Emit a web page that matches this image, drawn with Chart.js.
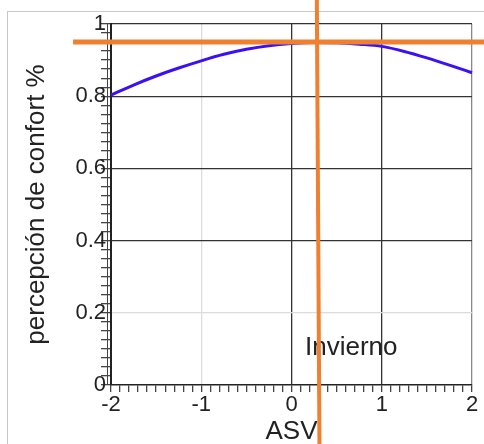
<!DOCTYPE html>
<html>
<head>
<meta charset="utf-8">
<script src="https://cdn.jsdelivr.net/npm/chart.js@4"></script>
<style>
  html, body { margin: 0; padding: 0; background: #fff; }
</style>
</head>
<body>
<canvas id="confortChart" width="484" height="444"></canvas>
<script>
// curve
const asv = [-2, -1.75, -1.5, -1.25, -1, -0.75, -0.5, -0.25, 0, 0.25, 0.5, 0.75, 1, 1.25, 1.5, 1.75, 2];
const confort = [0.803, 0.831, 0.856, 0.878, 0.898, 0.916, 0.930, 0.940, 0.946, 0.949, 0.948, 0.944, 0.938, 0.924, 0.906, 0.886, 0.865];

// orange reference lines (value of comfort and ASV they mark)
const refConfort = [0.95, 0.95];
const refConfortAsv = [-2.42, 2.2];
const refAsv = [0.28, 0.31];
const refAsvConfort = [1.1, -0.17];

const xMajor = [-2, -1, 0, 1, 2];
const yMajor = [0, 0.2, 0.4, 0.6, 0.8, 1];
const seasonLabel = "Invierno";

const near = (a, b) => Math.abs(a - b) < 1e-6;
const FONT = '"Liberation Sans", Arial, sans-serif';

const curvePoints = asv.map((x, i) => ({ x: x, y: confort[i] }));
const hLine = refConfortAsv.map((x, i) => ({ x: x, y: refConfort[i] }));
const vLine = refAsv.map((x, i) => ({ x: x, y: refAsvConfort[i] }));

const extras = {
  id: "extras",
  beforeDraw(chart) {
    const ctx = chart.ctx;
    ctx.save();
    ctx.fillStyle = "#fff";
    ctx.fillRect(0, 0, chart.width, chart.height);
    ctx.strokeStyle = "#c8c8c8";
    ctx.lineWidth = 1;
    ctx.strokeRect(7.5, 11.5, 500, 500);
    ctx.restore();
  },
  beforeDatasetsDraw(chart) {
    const { ctx, chartArea, scales } = chart;
    ctx.save();
    // second line of the y axis
    ctx.strokeStyle = "#444";
    ctx.lineWidth = 1;
    ctx.beginPath();
    ctx.moveTo(chartArea.left - 3.5, chartArea.top);
    ctx.lineTo(chartArea.left - 3.5, chartArea.bottom);
    ctx.stroke();
    ctx.fillStyle = "#222";
    ctx.font = "26px " + FONT;
    ctx.textAlign = "left";
    ctx.textBaseline = "middle";
    ctx.fillText(seasonLabel, scales.x.getPixelForValue(0.15), scales.y.getPixelForValue(0.1025));
    ctx.restore();
  }
};

new Chart(document.getElementById("confortChart"), {
  type: "scatter",
  data: {
    datasets: [
      {
        data: hLine,
        showLine: true,
        borderColor: "#f08030",
        borderWidth: 5,
        pointRadius: 0,
        clip: false
      },
      {
        data: vLine,
        showLine: true,
        borderColor: "#f08030",
        borderWidth: 4,
        pointRadius: 0,
        clip: false
      },
      {
        data: curvePoints,
        showLine: true,
        borderColor: "#3c10f5",
        borderWidth: 3,
        pointRadius: 0,
        cubicInterpolationMode: "monotone",
        clip: 6
      }
    ]
  },
  options: {
    responsive: false,
    animation: false,
    layout: { padding: { top: 24, right: 12, left: 0, bottom: 0 } },
    plugins: { legend: { display: false }, tooltip: { enabled: false } },
    scales: {
      x: {
        type: "linear",
        min: -2,
        max: 2,
        afterFit: (s) => { s.height = 59; },
        ticks: {
          stepSize: 0.1,
          autoSkip: false,
          maxRotation: 0,
          minRotation: 0,
          padding: 0,
          color: "#222",
          font: { family: FONT, size: 22 },
          callback: (v) => xMajor.some((m) => near(m, v)) ? String(Math.round(v)) : ""
        },
        grid: {
          tickLength: 7,
          tickColor: "#444",
          lineWidth: 1.3,
          color: (c) => {
            if (!c.tick) return "rgba(0,0,0,0)";
            const v = c.tick.value;
            if (near(v, 0) || near(v, 1)) return "#333";
            if (near(v, -1)) return "#dcdcdc";
            if (near(v, 2)) return "#888";
            return "rgba(0,0,0,0)";
          }
        },
        border: { color: "#222", width: 1.5 },
        title: {
          display: true,
          text: "ASV",
          color: "#222",
          font: { family: FONT, size: 26 },
          padding: { top: 0, bottom: -3 }
        }
      },
      y: {
        type: "linear",
        min: 0,
        max: 1,
        afterFit: (s) => { s.width = 111; },
        ticks: {
          stepSize: 0.025,
          autoSkip: false,
          padding: -5,
          color: "#222",
          font: { family: FONT, size: 22 },
          callback: (v) => {
            const m = yMajor.find((t) => near(t, v));
            return m === undefined ? "" : String(m);
          }
        },
        grid: {
          tickLength: 10,
          tickColor: "#444",
          lineWidth: 1.3,
          color: (c) => {
            if (!c.tick) return "rgba(0,0,0,0)";
            const v = c.tick.value;
            if (near(v, 0.4) || near(v, 0.6) || near(v, 0.8) || near(v, 1)) return "#333";
            if (near(v, 0.2)) return "#dcdcdc";
            return "rgba(0,0,0,0)";
          }
        },
        border: { color: "#222", width: 2 },
        title: {
          display: true,
          text: "percepción de confort %",
          color: "#222",
          font: { family: FONT, size: 26 },
          padding: { top: 21, bottom: 0 }
        }
      }
    }
  },
  plugins: [extras]
});
</script>
</body>
</html>
